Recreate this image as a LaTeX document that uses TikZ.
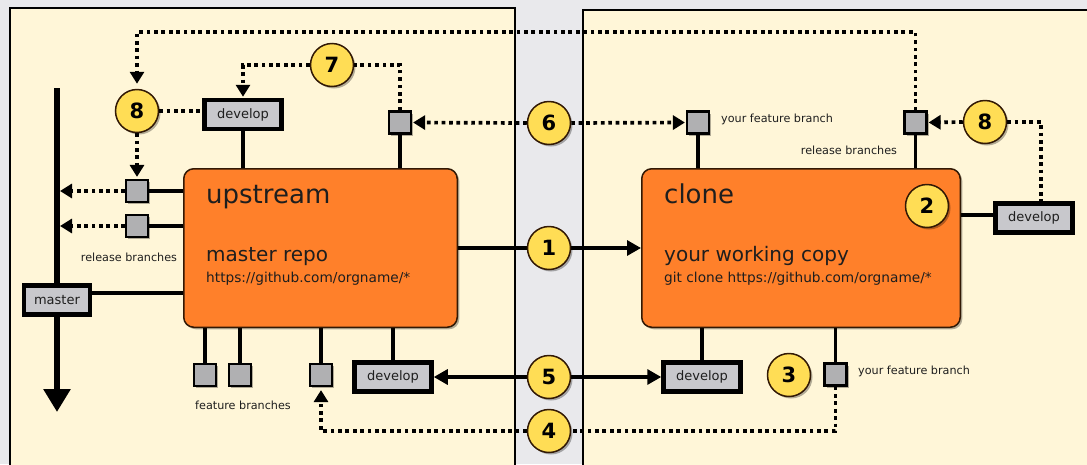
\documentclass[tikz,border=0pt]{standalone}
\usepackage{fontspec}
\setmainfont{DejaVu Sans}
\usetikzlibrary{arrows.meta,shadows,calc}
\pgfdeclarelayer{back}
\pgfdeclarelayer{mid}
\pgfsetlayers{back,mid,main}
\definecolor{bgc}{RGB}{233,233,236}
\definecolor{cream}{RGB}{255,246,216}
\definecolor{orng}{RGB}{255,128,42}
\definecolor{yel}{RGB}{255,221,85}
\definecolor{sqgray}{RGB}{176,176,178}
\definecolor{brgray}{RGB}{200,200,204}
\definecolor{txt}{RGB}{30,30,30}
\definecolor{edge}{RGB}{50,25,5}
\begin{document}
\begin{tikzpicture}[x=1pt,y=-1pt,
  panel/.style={draw=black,line width=2pt,fill=cream},
  shad/.style={drop shadow={shadow xshift=2pt,shadow yshift=-2pt,opacity=0.3,fill=black}},
  repo/.style={draw=edge,line width=1.5pt,fill=orng,rounded corners=10pt,shad},
  num/.style={circle,draw=edge,line width=1.5pt,fill=yel,minimum size=43pt,inner sep=0pt,
    font=\fontsize{21}{24}\selectfont\bfseries,text=black,shad},
  sq/.style={draw=black,line width=2.2pt,fill=sqgray,minimum size=22pt,inner sep=0pt,shad},
  br/.style={draw=black,line width=4.5pt,fill=brgray,minimum width=77pt,minimum height=29pt,
    inner sep=0pt,font=\fontsize{13}{15}\selectfont,text=txt,shad},
  lbl/.style={font=\fontsize{11.2}{13}\selectfont,text=txt,inner sep=0pt},
  big/.style={anchor=base west,inner sep=0pt,font=\fontsize{26}{30}\selectfont,text=txt},
  mid/.style={anchor=base west,inner sep=0pt,font=\fontsize{20}{24}\selectfont,text=txt},
  url/.style={anchor=base west,inner sep=0pt,font=\fontsize{13.7}{16}\selectfont,text=txt},
  conn/.style={draw=black,line width=3.2pt},
  dotl/.style={draw=black,line width=3.7pt,dash pattern=on 3.7pt off 3.7pt},
  dtip/.style={-{Triangle[length=12pt,width=14pt]}},
  stip/.style={-{Triangle[length=14pt,width=15pt]}},
]
\useasboundingbox (0,0) rectangle (1087,464);
\begin{pgfonlayer}{back}
  \fill[bgc] (0,0) rectangle (1087,464);
  \draw[panel] (10,8) rectangle (515,480);
  \draw[panel] (583,10) rectangle (1100,480);
\end{pgfonlayer}

% repositories
\node[repo,minimum width=273.5pt,minimum height=158.5pt] (upstream) at (320.5,248) {};
\node[repo,minimum width=318.5pt,minimum height=158.5pt] (clone) at (801,248) {};
\node[big] (tup) at (206,203) {upstream};
\node[mid] (tmr) at (206,261) {master repo};
\node[url] (tu1) at (206,282) {https://github.com/orgname/*};
\node[big] (tcl) at (664,203) {clone};
\node[mid] (twc) at (664,261) {your working copy};
\node[url] (tu2) at (664,282) {git clone https://github.com/orgname/*};

% branch squares
\node[sq] (rl1) at (137,191) {};
\node[sq] (rl2) at (137,226) {};
\node[sq] (sqT) at (400,122.5) {};
\node[sq] (fb1) at (205,375) {};
\node[sq] (fb2) at (240,375) {};
\node[sq] (fb3) at (321,375) {};
\node[sq] (rf) at (698,122.5) {};
\node[sq] (rr) at (915.5,122.5) {};
\node[sq] (rfb) at (835.5,374.5) {};

% branch boxes
\node[br] (devT) at (243,114.5) {develop};
\node[br] (devL) at (393,377) {develop};
\node[br] (devB) at (702,377) {develop};
\node[br] (devR) at (1034,218) {develop};
\node[br,minimum width=66pt] (master) at (57,300) {master};

% labels
\node[lbl] (lrl) at (129,257) {release branches};
\node[lbl] (lfb) at (243,405) {feature branches};
\node[lbl,anchor=west] (lyf1) at (721,119) {your feature branch};
\node[lbl] (lrr) at (849,150) {release branches};
\node[lbl,anchor=west] (lyf2) at (858,371) {your feature branch};

% numbered circles
\node[num] (c1) at (549,248) {1};
\node[num] (c2) at (927,206) {2};
\node[num] (c3) at (789,375) {3};
\node[num] (c4) at (549,431) {4};
\node[num] (c5) at (549,377) {5};
\node[num] (c6) at (549,123) {6};
\node[num] (c7) at (332,65) {7};
\node[num] (c8L) at (137,111) {8};
\node[num] (c8R) at (985,122) {8};

\coordinate (mtop) at (57,88);
\coordinate (mbot) at (57,412);
\coordinate (mst) at ([yshift=7pt]master.east);
\coordinate (devRin) at ([yshift=3pt]devR.west);
\coordinate (tl) at (137,32);

\begin{pgfonlayer}{mid}
  % master line
  \draw[line width=5.8pt,-{Triangle[length=23pt,width=26pt]}] (mtop) -- (mbot);
  % solid connectors
  \draw[conn] (rl1) -- (rl1 -| upstream.west);
  \draw[conn] (rl2) -- (rl2 -| upstream.west);
  \draw[conn] (mst) -- (mst -| upstream.west);
  \draw[conn] (devT) -- (devT |- upstream.north);
  \draw[conn] (sqT) -- (sqT |- upstream.north);
  \draw[conn] (fb1) -- (fb1 |- upstream.south);
  \draw[conn] (fb2) -- (fb2 |- upstream.south);
  \draw[conn] (fb3) -- (fb3 |- upstream.south);
  \draw[conn] (devL) -- (devL |- upstream.south);
  \draw[conn] (rf) -- (rf |- clone.north);
  \draw[conn] (rr) -- (rr |- clone.north);
  \draw[conn] (devB) -- (devB |- clone.south);
  \draw[conn] (rfb) -- (rfb |- clone.south);
  \draw[conn] (devRin) -- (devRin -| clone.east);
  \draw[conn,stip] (upstream) -- (clone);
  \draw[conn,{Triangle[length=14pt,width=15pt]}-{Triangle[length=14pt,width=15pt]}] (devL) -- (devB);
  % dotted connectors
  \draw[dotl,dtip,shorten >=3pt] (rl1.west) -- (rl1 -| mtop);
  \draw[dotl,dtip,shorten >=3pt] (rl2.west) -- (rl2 -| mtop);
  \draw[dotl] (c8L.east) -- (c8L.east -| devT.west);
  \draw[dotl,dtip,shorten >=2pt] (c8L.south) -- (rl1.north);
  \draw[dotl,dtip,shorten >=5pt] (rr.north) |- (tl) -- (c8L.north);
  \draw[dotl] (sqT.north) |- (c7.east);
  \draw[dotl,dtip,shorten >=1pt] (c7.west) -| (devT.north);
  \draw[dotl,dtip,shorten >=1pt] (c6.west) -- (sqT.east);
  \draw[dotl,dtip,shorten >=1pt] (c6.east) -- (rf.west);
  \draw[dotl,dtip,shorten >=1pt] (c8R.west) -- (rr.east);
  \draw[dotl] (c8R.east) -| ([xshift=7pt]devR.north);
  \draw[dotl] (rfb.south) |- (c4.east);
  \draw[dotl,dtip,shorten >=3pt] (c4.west) -| (fb3.south);
\end{pgfonlayer}
\end{tikzpicture}
\end{document}
